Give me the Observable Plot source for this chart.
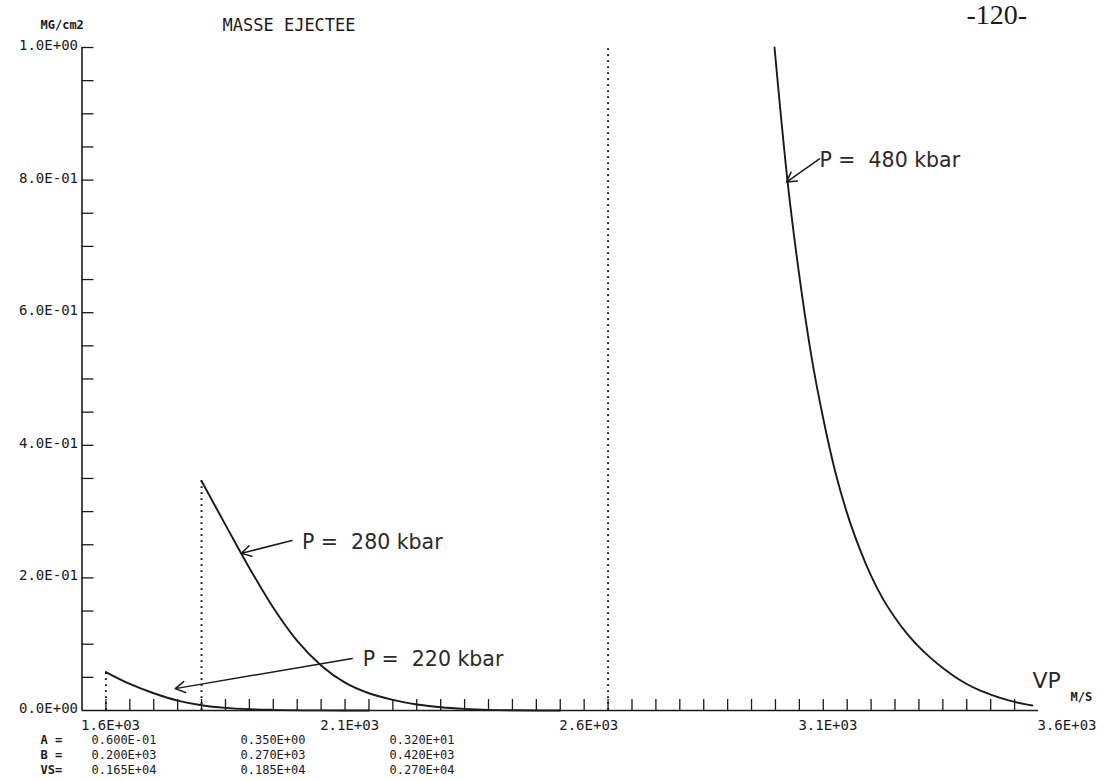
<!DOCTYPE html>
<html><head><meta charset="utf-8">
<script src="https://cdn.jsdelivr.net/npm/d3@7"></script>
<script src="https://cdn.jsdelivr.net/npm/@observablehq/plot@0.6"></script>
<style>html,body{margin:0;padding:0;background:#fff}</style>
</head><body><div id="chart"></div>
<script>
// ---- data ----
const pressures = ["220", "280", "480"];
const A = [0.06, 0.35, 3.2];
const B = [200, 270, 420];
const VS = [1650, 1850, 2700];

const vp220 = [1650, 1700, 1750, 1800, 1850, 1900, 1950, 2000, 2100, 2200];
const m220  = [0.058, 0.040, 0.026, 0.015, 0.008, 0.004, 0.002, 0.001, 0.0002, 0];

const vp280 = [1850, 1900, 1950, 2000, 2050, 2100, 2150, 2200, 2250, 2300, 2350, 2400, 2450, 2500, 2600];
const m280  = [0.346, 0.28, 0.215, 0.155, 0.105, 0.068, 0.042, 0.026, 0.016, 0.009, 0.005, 0.0025, 0.001, 0.0003, 0];

const vp480 = [3048, 3075, 3100, 3125, 3150, 3175, 3200, 3225, 3250, 3275, 3300, 3325, 3350, 3375, 3400, 3425, 3450, 3475, 3500, 3525, 3550, 3587];
const m480  = [1.0, 0.80, 0.655, 0.535, 0.44, 0.36, 0.297, 0.246, 0.203, 0.168, 0.140, 0.116, 0.096, 0.079, 0.064, 0.051, 0.040, 0.031, 0.024, 0.018, 0.013, 0.0075];

const xTickValues = [1600, 2100, 2600, 3100, 3600];
const xTickText = ["1.6E+03", "2.1E+03", "2.6E+03", "3.1E+03", "3.6E+03"];
const yTickValues = [0, 0.2, 0.4, 0.6, 0.8, 1.0];
const yTickText = ["0.0E+00", "2.0E-01", "4.0E-01", "6.0E-01", "8.0E-01", "1.0E+00"];
const rowLabels = ["A =", "B =", "VS="];

// ---- layout ----
const W = 1107, H = 781;
const mL = 81.5, mR = 69, mT = 47, mB = 71;
const pxX = (W - mL - mR) / 2000;   // px per m/s
const pxY = (H - mT - mB) / 1;      // px per unit
const tickLenX = 11 / pxY;           // x-axis tick length in y units
const tickLenY = 12 / pxX;           // y-axis tick length in x units

const fmtE = v => {
  const e = Math.floor(Math.log10(v)) + 1;
  const m = v / Math.pow(10, e);
  return m.toFixed(3) + "E" + (e < 0 ? "-" : "+") + String(Math.abs(e)).padStart(2, "0");
};

const series = [
  ...vp220.map((v, i) => ({p: "220", vp: v, m: m220[i]})),
  ...vp280.map((v, i) => ({p: "280", vp: v, m: m280[i]})),
  ...vp480.map((v, i) => ({p: "480", vp: v, m: m480[i]}))
];
const xMinor = d3.range(1650, 3600, 50);
const yMinor = d3.range(1, 21).map(i => i * 0.05);

const mono = "'DejaVu Sans Mono', monospace";
const sans = "'DejaVu Sans', sans-serif";
const ink = "#1a1a1a";

// parameter table (one text mark per cell, anchored to the bottom-left of the frame)
const rowY = [743, 758, 773];
const colX = [91, 240, 389];
const tableMarks = [];
[A, B, VS].forEach((arr, r) => {
  tableMarks.push(Plot.text([rowLabels[r]], {frameAnchor: "bottom-left", dx: 40 - mL, dy: rowY[r] - (H - mB),
    textAnchor: "start", fontFamily: mono, fontSize: 12, fontWeight: "bold", letterSpacing: 1.2, fill: ink}));
  arr.forEach((v, c) => {
    tableMarks.push(Plot.text([fmtE(v)], {frameAnchor: "bottom-left", dx: colX[c] - mL, dy: rowY[r] - (H - mB),
      textAnchor: "start", fontFamily: mono, fontSize: 12, letterSpacing: 0.7, fill: ink}));
  });
});

const chart = Plot.plot({
  width: W, height: H,
  marginLeft: mL, marginRight: mR, marginTop: mT, marginBottom: mB,
  x: {domain: [1600, 3600], axis: null},
  y: {domain: [0, 1], axis: null},
  style: {background: "#fff", color: ink, overflow: "visible"},
  marks: [
    // dotted lines at VS
    Plot.ruleX(VS, {x: d => d, y1: 0, y2: (d, i) => Math.min(A[i], 1), stroke: ink, strokeWidth: 2, strokeDasharray: "1.8,4.2"}),
    // axes
    Plot.ruleX([1600], {y1: 0, y2: 1, stroke: ink, strokeWidth: 1.6}),
    Plot.ruleY([0], {x1: 1600, x2: 3600, stroke: ink, strokeWidth: 1.6}),
    Plot.ruleX(xMinor, {x: d => d, y1: 0, y2: tickLenX, stroke: ink, strokeWidth: 1.3}),
    Plot.ruleY(yMinor, {y: d => d, x1: 1600, x2: 1600 + tickLenY, stroke: ink, strokeWidth: 1.3}),
    Plot.text(xTickValues, {x: d => d, y: 0, text: (d, i) => xTickText[i], textAnchor: "start", dy: 15, dx: -1,
      fontFamily: mono, fontSize: 14, letterSpacing: 0.5, fill: ink}),
    Plot.text(yTickValues, {x: 1600, y: d => d, text: (d, i) => yTickText[i], textAnchor: "end", dx: -4, dy: -2,
      fontFamily: mono, fontSize: 14, letterSpacing: 1.6, fill: ink}),
    // curves
    Plot.line(series, {x: "vp", y: "m", z: "p", curve: "monotone-x", stroke: ink, strokeWidth: 1.9}),
    // annotations
    Plot.arrow([0], {x1: 2039, y1: 0.2565, x2: 1933, y2: 0.237, stroke: ink, strokeWidth: 1.5, headLength: 11}),
    Plot.arrow([0], {x1: 2165, y1: 0.0785, x2: 1795, y2: 0.033, stroke: ink, strokeWidth: 1.5, headLength: 11}),
    Plot.arrow([0], {x1: 3142, y1: 0.832, x2: 3073, y2: 0.797, stroke: ink, strokeWidth: 1.5, headLength: 11}),
    Plot.text([`P =  ${pressures[1]} kbar`], {x: 2060, y: 0.2535, textAnchor: "start", fontFamily: sans, fontSize: 20.5, fill: "#2a2a2a"}),
    Plot.text([`P =  ${pressures[0]} kbar`], {x: 2187, y: 0.077, textAnchor: "start", fontFamily: sans, fontSize: 20.5, fill: "#2a2a2a"}),
    Plot.text([`P =  ${pressures[2]} kbar`], {x: 3142, y: 0.83, textAnchor: "start", fontFamily: sans, fontSize: 20.5, fill: "#2a2a2a"}),
    Plot.text(["VP"], {x: 3600, y: 0, textAnchor: "start", dx: -6, dy: -30, fontFamily: sans, fontSize: 22, fill: "#2a2a2a"}),
    Plot.text(["M/S"], {x: 3600, y: 0, textAnchor: "start", dx: 32, dy: -13, fontFamily: mono, fontSize: 12, fontWeight: "bold", letterSpacing: 0.5, fill: ink}),
    // header texts
    Plot.text(["MASSE EJECTEE"], {frameAnchor: "top-left", dx: 222 - mL, dy: -29, textAnchor: "start", fontFamily: mono, fontSize: 17, letterSpacing: 2.2, fill: ink}),
    Plot.text(["MG/cm2"], {frameAnchor: "top-left", dx: 40 - mL, dy: -27, textAnchor: "start", fontFamily: mono, fontSize: 12, fontWeight: "bold", letterSpacing: 2.2, fill: ink}),
    Plot.text(["-120-"], {frameAnchor: "top-left", dx: 966 - mL, dy: -43, textAnchor: "start", fontFamily: "'Liberation Serif', serif", fontSize: 28, letterSpacing: 1.5, fill: ink}),
    ...tableMarks
  ]
});

document.getElementById("chart").appendChild(chart);
</script>
</body></html>
